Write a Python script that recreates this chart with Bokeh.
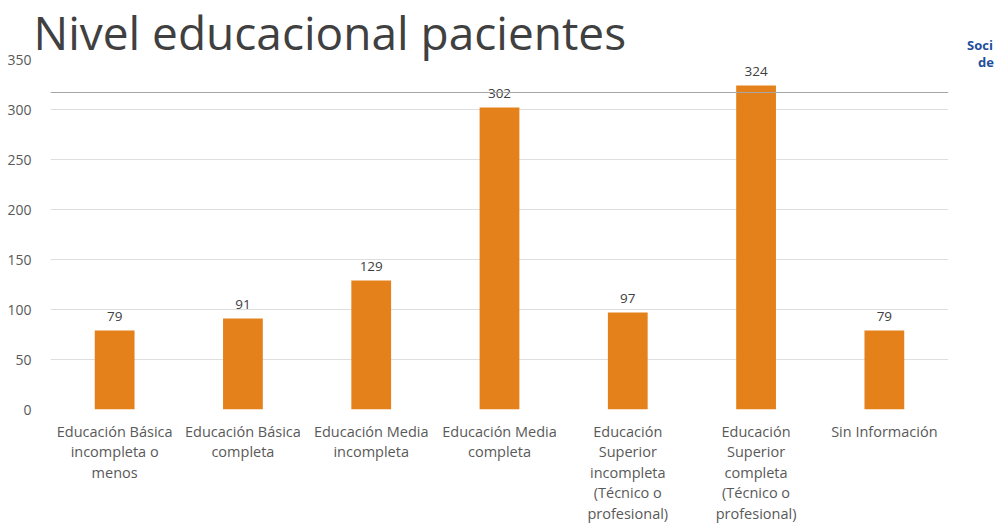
from bokeh.plotting import figure
from bokeh.layouts import row
from bokeh.models import ColumnDataSource, LabelSet, BoxAnnotation, FixedTicker, Range1d, Title, Div
from bokeh.core.properties import value
from bokeh.embed import file_html
from bokeh.resources import INLINE

# ---- data ----
categories = [
    "Educación Básica\nincompleta o\nmenos",
    "Educación Básica\ncompleta",
    "Educación Media\nincompleta",
    "Educación Media\ncompleta",
    "Educación\nSuperior\nincompleta\n(Técnico o\nprofesional)",
    "Educación\nSuperior\ncompleta\n(Técnico o\nprofesional)",
    "Sin Información",
]
values = [79, 91, 129, 302, 97, 324, 79]
y_ticks = [0, 50, 100, 150, 200, 250, 300, 350]
title_text = "Nivel educacional pacientes"
logo_lines = ["Soci", "de"]

FONT = "Open Sans"
BAR_COLOR = "#E5811A"
TEXT_COLOR = "#595959"

source = ColumnDataSource(dict(cat=categories, val=values, lab=[str(v) for v in values]))

p = figure(
    width=960, height=528,
    x_range=categories, y_range=Range1d(0, 350),
    output_backend="svg", toolbar_location=None,
    min_border_left=50, min_border_right=12, min_border_top=59, min_border_bottom=119,
)
p.title = Title(text=title_text, text_font=FONT, text_font_size="46px",
                text_font_style="normal", text_color="#404040",
                align="left", offset=-17, standoff=-6)
p.outline_line_color = None
p.background_fill_color = "white"
p.border_fill_color = "white"

p.vbar(x="cat", top="val", width=0.31, source=source,
       fill_color=BAR_COLOR, line_color=None)

labels = LabelSet(x="cat", y="val", text="lab", source=source,
                  text_align="center", text_baseline="bottom", y_offset=10,
                  text_font=value(FONT), text_font_size=value("13.5px"), text_color="#404040")
p.add_layout(labels)

# axes
p.yaxis.ticker = FixedTicker(ticks=y_ticks)
p.yaxis.axis_line_color = None
p.yaxis.major_tick_line_color = None
p.yaxis.minor_tick_line_color = None
p.yaxis.major_label_text_font = FONT
p.yaxis.major_label_text_font_size = "14px"
p.yaxis.major_label_text_color = TEXT_COLOR
p.yaxis.major_label_standoff = 13

p.xaxis.axis_line_color = None
p.xaxis.major_tick_line_color = None
p.xaxis.minor_tick_line_color = None
p.xaxis.major_label_text_font = FONT
p.xaxis.major_label_text_font_size = "14.5px"
p.xaxis.major_label_text_color = TEXT_COLOR
p.xaxis.major_label_standoff = 6
p.xaxis.major_label_text_line_height = 1.08

p.xgrid.grid_line_color = None
p.ygrid.grid_line_color = "#DEDEDE"
p.ygrid.grid_line_width = 1

# slide decoration line
p.add_layout(BoxAnnotation(bottom=316.4, top=317.6, fill_color="#A6A6A6", fill_alpha=1,
                           line_color=None))

# partially visible logo at the slide's right edge
logo = Div(
    text=(f'<div style="margin:0;padding:0;white-space:nowrap;">'
          f'<div style="padding-left:2px;line-height:17px;">{logo_lines[0]}</div>'
          f'<div style="padding-left:13px;line-height:17px;">{logo_lines[1]}</div></div>'),
    width=32, height=528,
    styles={"overflow": "hidden", "padding-top": "32px", "font-family": "Open Sans",
            "font-size": "13px", "font-weight": "bold", "color": "#1F4E9A",
            "box-sizing": "border-box"},
)

layout = row(p, logo, spacing=0)

open("out.html", "w").write(file_html(layout, INLINE))
